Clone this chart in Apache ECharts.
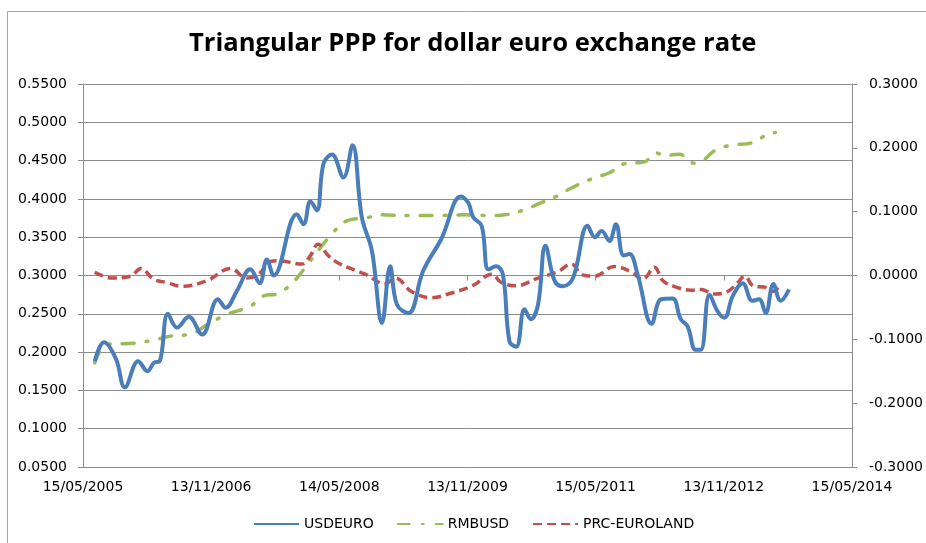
<!DOCTYPE html>
<html>
<head>
<meta charset="utf-8">
<script src="https://cdn.jsdelivr.net/npm/echarts@6/dist/echarts.min.js"></script>
<style>
  html, body { margin: 0; padding: 0; background: #fff; }
  #chart { width: 926px; height: 543px; }
</style>
</head>
<body>
<div id="chart"></div>
<script>
// USDEURO (left axis)
const usdEuroDates = ['2005-07-04', '2005-08-13', '2005-10-02', '2005-11-10', '2006-01-06', '2006-02-15', '2006-03-14', '2006-04-08',
  '2006-05-13', '2006-06-21', '2006-08-10', '2006-10-06', '2006-12-13', '2007-01-15', '2007-03-04', '2007-04-30',
  '2007-06-09', '2007-07-10', '2007-08-08', '2007-11-15', '2007-12-14', '2008-01-12', '2008-02-09', '2008-03-08',
  '2008-04-13', '2008-06-01', '2008-07-10', '2008-08-19', '2008-10-01', '2008-11-13', '2008-12-18', '2009-01-16',
  '2009-03-06', '2009-05-08', '2009-07-25', '2009-10-17', '2009-11-17', '2009-12-08', '2010-01-13', '2010-02-11',
  '2010-03-16', '2010-04-14', '2010-05-12', '2010-06-10', '2010-07-15', '2010-08-11', '2010-09-11', '2010-10-13',
  '2010-11-21', '2010-12-27', '2011-02-08', '2011-04-11', '2011-05-12', '2011-06-10', '2011-07-13', '2011-08-10',
  '2011-09-12', '2011-10-07', '2011-11-11', '2012-01-10', '2012-02-19', '2012-04-08', '2012-05-13', '2012-06-11',
  '2012-07-16', '2012-08-07', '2012-09-13', '2012-10-18', '2012-11-16', '2012-12-21', '2013-02-02', '2013-03-15',
  '2013-04-13', '2013-05-11', '2013-06-13', '2013-07-14', '2013-08-19']
const usdEuro = [0.188, 0.213, 0.192, 0.154, 0.188, 0.175, 0.186, 0.188,
  0.250, 0.232, 0.246, 0.223, 0.269, 0.258, 0.280, 0.308,
  0.290, 0.321, 0.300, 0.380, 0.367, 0.397, 0.385, 0.446,
  0.458, 0.428, 0.470, 0.376, 0.332, 0.238, 0.312, 0.262,
  0.251, 0.306, 0.348, 0.403, 0.395, 0.376, 0.365, 0.308,
  0.312, 0.301, 0.214, 0.207, 0.256, 0.243, 0.262, 0.339,
  0.293, 0.286, 0.297, 0.365, 0.350, 0.358, 0.345, 0.367,
  0.326, 0.328, 0.301, 0.237, 0.269, 0.270, 0.243, 0.234,
  0.203, 0.203, 0.275, 0.253, 0.245, 0.273, 0.290, 0.267,
  0.269, 0.251, 0.289, 0.267, 0.282]

// RMBUSD (right axis)
const rmbUsdDates = ['2005-07-04', '2005-08-27', '2005-12-19', '2006-03-02', '2006-05-24', '2006-08-24', '2006-10-27', '2007-01-21',
  '2007-04-30', '2007-06-26', '2007-08-29', '2007-11-08', '2007-12-28', '2008-04-06', '2008-06-18', '2008-09-02',
  '2008-11-13', '2009-03-06', '2009-07-11', '2009-10-26', '2010-02-18', '2010-04-21', '2010-07-15', '2010-09-18',
  '2010-12-05', '2011-01-31', '2011-04-25', '2011-07-13', '2011-09-15', '2011-12-10', '2012-01-29', '2012-03-04',
  '2012-05-06', '2012-07-10', '2012-08-15', '2012-10-07', '2012-12-14', '2013-03-15', '2013-05-18', '2013-06-22']
const rmbUsd = [-0.137, -0.108, -0.106, -0.102, -0.095, -0.091, -0.077, -0.061,
  -0.048, -0.032, -0.028, -0.007, 0.016, 0.062, 0.086, 0.090,
  0.095, 0.094, 0.094, 0.095, 0.094, 0.095, 0.103, 0.113,
  0.125, 0.137, 0.151, 0.161, 0.175, 0.178, 0.192, 0.188,
  0.190, 0.176, 0.180, 0.196, 0.204, 0.208, 0.221, 0.224]

// PRC-EUROLAND (right axis)
const prcEuroDates = ['2005-07-04', '2005-09-18', '2005-12-06', '2006-01-17', '2006-03-14', '2006-05-09', '2006-07-12', '2006-10-27',
  '2007-02-05', '2007-04-15', '2007-06-05', '2007-07-25', '2007-08-29', '2007-12-07', '2008-01-12', '2008-02-14',
  '2008-03-29', '2008-05-18', '2008-09-02', '2008-11-27', '2009-01-09', '2009-03-19', '2009-06-13', '2009-08-23',
  '2009-11-17', '2009-12-15', '2010-02-25', '2010-04-07', '2010-06-10', '2010-09-11', '2010-12-05', '2011-01-31',
  '2011-03-20', '2011-05-10', '2011-08-03', '2011-10-13', '2011-12-02', '2012-01-22', '2012-02-26', '2012-04-15',
  '2012-06-25', '2012-08-07', '2012-10-04', '2012-11-30', '2013-01-12', '2013-02-10', '2013-03-22', '2013-05-04',
  '2013-06-09', '2013-07-07']
const prcEuro = [0.005, -0.004, -0.001, 0.011, -0.006, -0.011, -0.017, -0.008,
  0.011, -0.004, 0.002, 0.022, 0.023, 0.018, 0.031, 0.049,
  0.031, 0.018, 0.002, -0.013, -0.004, -0.025, -0.035, -0.029,
  -0.019, -0.014, 0.002, -0.011, -0.016, -0.004, 0.006, 0.018,
  0.001, -0.001, 0.014, 0.006, -0.006, 0.013, -0.008, -0.017,
  -0.023, -0.022, -0.029, -0.025, -0.011, -0.001, -0.017, -0.018,
  -0.025, -0.018]

const axisStart = '2005-05-15'
const axisEnd = '2014-05-15'

const DAY = 86400000
function toDay(s) {
  return Date.parse(s + 'T00:00:00Z') / DAY
}
function pad(n) {
  return (n < 10 ? '0' : '') + n
}
function dayLabel(v) {
  const d = new Date(Math.floor(v + 1e-6) * DAY)
  return pad(d.getUTCDate()) + '/' + pad(d.getUTCMonth() + 1) + '/' + d.getUTCFullYear()
}
function pairs(dates, vals) {
  return dates.map((d, i) => [toDay(d), vals[i]])
}

const xMin = toDay(axisStart)
const xMax = toDay(axisEnd)

const chart = echarts.init(document.getElementById('chart'))
const gridColor = '#8c8c8c'
const font = 'DejaVu Sans'

const option = {
  backgroundColor: '#fff',
  animation: false,
  title: {
    text: 'Triangular PPP for dollar euro exchange rate',
    left: 184,
    top: 26,
    textStyle: {
      fontFamily: 'Open Sans',
      fontWeight: 'bold',
      fontSize: 25.6,
      color: '#000'
    }
  },
  graphic: [
    {
      type: 'rect',
      shape: {x: 7.5, y: 11.5, width: 1000, height: 1000},
      style: {fill: 'none', stroke: '#a6a6a6', lineWidth: 1},
      silent: true
    }
  ],
  legend: {
    left: 248,
    top: 512,
    itemWidth: 45,
    itemHeight: 14,
    itemGap: 23,
    itemStyle: {color: 'rgba(0,0,0,0)', borderWidth: 0, opacity: 0},
    textStyle: {fontFamily: font, fontSize: 14, color: '#000'},
    data: ['USDEURO', 'RMBUSD', 'PRC-EUROLAND']
  },
  grid: {
    left: 83,
    right: 70,
    top: 84,
    bottom: 76,
    containLabel: false
  },
  xAxis: {
    type: 'value',
    min: xMin,
    max: xMax,
    interval: (xMax - xMin) / 6,
    axisLine: {show: true, lineStyle: {color: gridColor, width: 1}},
    axisTick: {show: true, length: 5, lineStyle: {color: gridColor}},
    splitLine: {show: false},
    axisLabel: {
      margin: 13,
      color: '#000',
      fontFamily: font,
      fontSize: 14,
      showMaxLabel: true,
      showMinLabel: true,
      formatter: dayLabel
    }
  },
  yAxis: [
    {
      type: 'value',
      min: 0.05,
      max: 0.55,
      interval: 0.05,
      axisLine: {show: true, lineStyle: {color: gridColor}},
      axisTick: {show: true, length: 5, lineStyle: {color: gridColor}},
      splitLine: {show: true, lineStyle: {color: gridColor, width: 1}},
      axisLabel: {
        margin: 16,
        color: '#000',
        fontFamily: font,
        fontSize: 14,
        formatter: v => v.toFixed(4)
      }
    },
    {
      type: 'value',
      min: -0.3,
      max: 0.3,
      interval: 0.1,
      axisLine: {show: true, lineStyle: {color: gridColor}},
      axisTick: {show: true, length: 5, lineStyle: {color: gridColor}},
      splitLine: {show: false},
      axisLabel: {
        margin: 17,
        color: '#000',
        fontFamily: font,
        fontSize: 14,
        formatter: v => v.toFixed(4)
      }
    }
  ],
  series: [
    {
      name: 'USDEURO',
      type: 'line',
      yAxisIndex: 0,
      smooth: 0.4,
      showSymbol: false,
      symbol: 'none',
      color: '#4a7ebb',
      lineStyle: {width: 4, color: '#4a7ebb'},
      z: 3,
      data: pairs(usdEuroDates, usdEuro)
    },
    {
      name: 'RMBUSD',
      type: 'line',
      yAxisIndex: 1,
      smooth: 0.4,
      showSymbol: false,
      symbol: 'none',
      color: '#9bbb59',
      lineStyle: {width: 3.5, color: '#9bbb59', type: [12, 12, 2, 12], cap: 'round'},
      z: 2,
      data: pairs(rmbUsdDates, rmbUsd)
    },
    {
      name: 'PRC-EUROLAND',
      type: 'line',
      yAxisIndex: 1,
      smooth: 0.4,
      showSymbol: false,
      symbol: 'none',
      color: '#c0504d',
      lineStyle: {width: 3.5, color: '#c0504d', type: [9, 5]},
      z: 2,
      data: pairs(prcEuroDates, prcEuro)
    }
  ]
}
chart.setOption(option)
</script>
</body>
</html>
